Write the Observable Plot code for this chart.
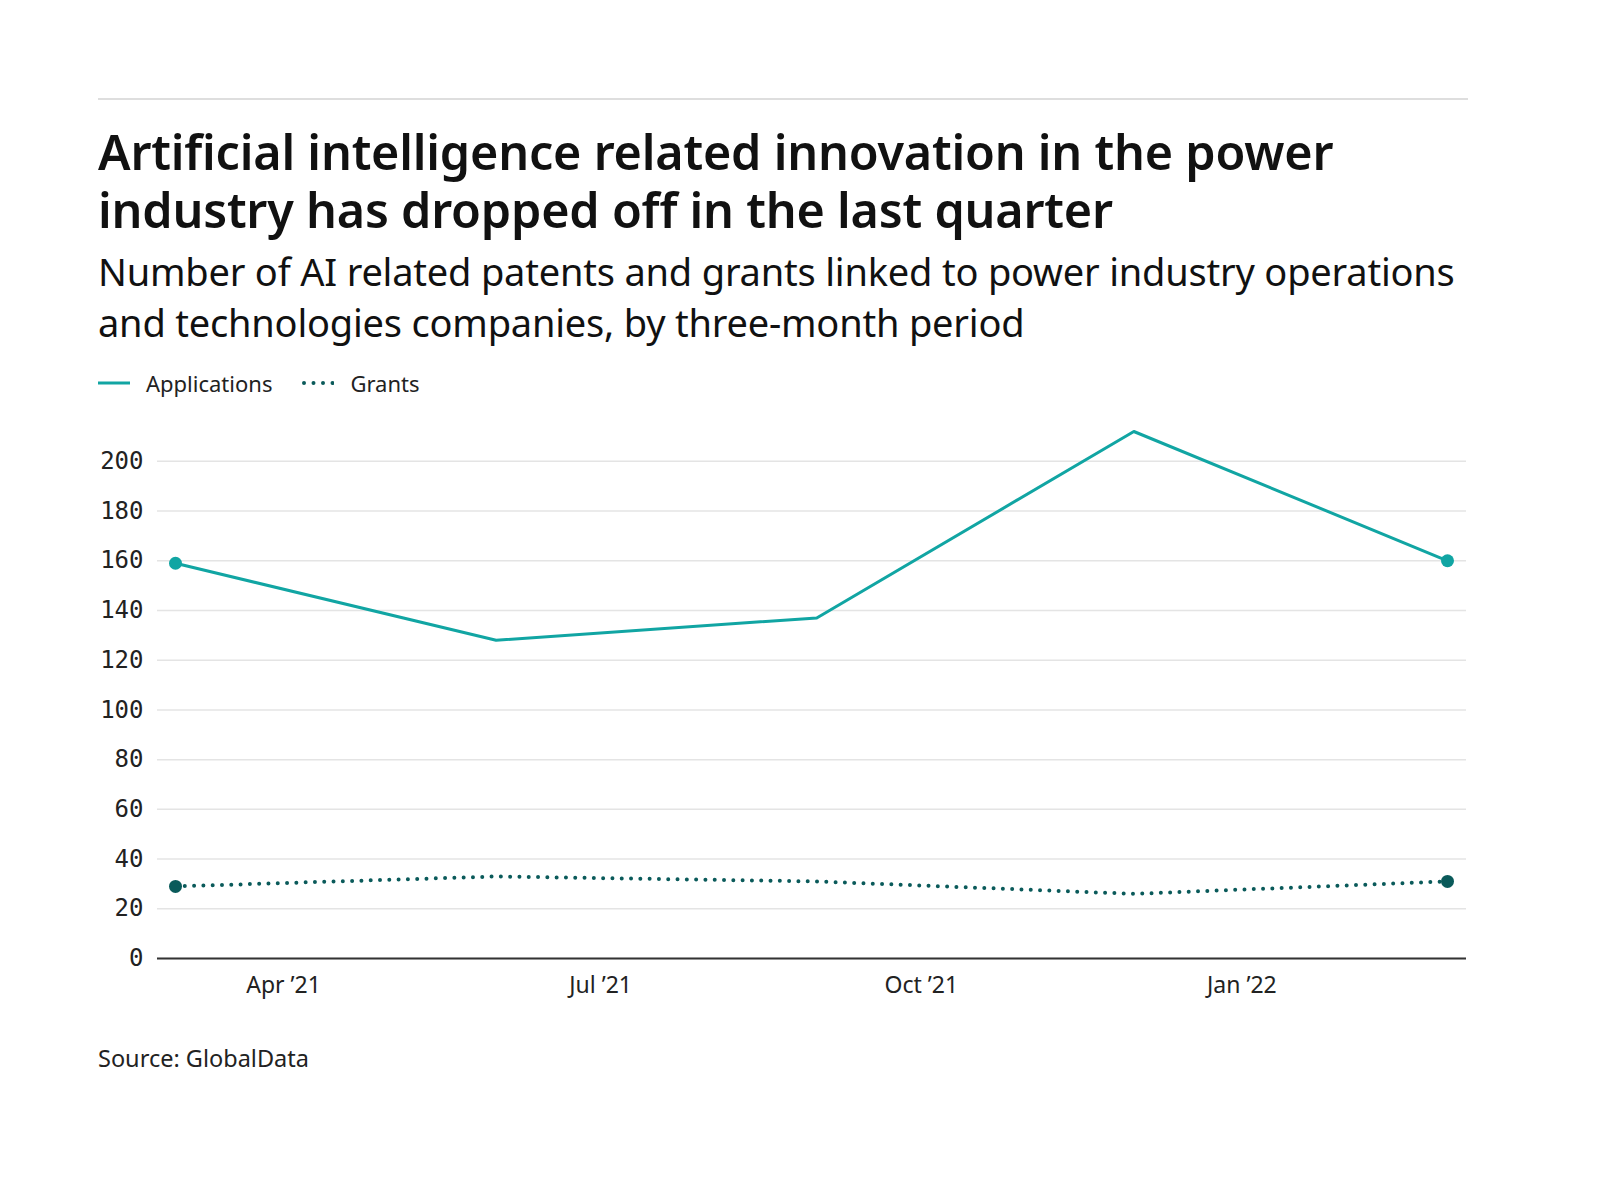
<!DOCTYPE html>
<html>
<head>
<meta charset="utf-8">
<script src="https://cdn.jsdelivr.net/npm/d3@7"></script>
<script src="https://cdn.jsdelivr.net/npm/@observablehq/plot@0.6"></script>
<style>
  html, body { margin: 0; padding: 0; background: #fff; }
  body { width: 1600px; height: 1200px; position: relative; font-family: "Noto Sans", sans-serif; color: #111; }
  #wrap { position: absolute; left: 98px; top: 98px; width: 1370px; }
  .rule { height: 0; border-top: 2px solid #dedede; }
  h1 { margin: 22px 0 0 0; font-size: 48.5px; line-height: 58px; font-weight: 600; color: #111; letter-spacing: -0.2px; }
  h2 { margin: 8px 0 0 0; font-size: 38px; line-height: 51px; font-weight: 400; color: #111; letter-spacing: -0.2px; white-space: nowrap; }
  .legend { margin-top: 20px; display: flex; align-items: center; font-size: 22px; color: #222; height: 30px; }
  .legend .item { display: flex; align-items: center; margin-right: 30px; }
  .legend svg { margin-right: 16px; }
  #chart { margin-top: 12px; }
  .source { font-size: 23.5px; color: #222; margin-top: 32px; }
</style>
</head>
<body>
<div id="wrap">
  <div class="rule"></div>
  <h1 id="title"></h1>
  <h2 id="subtitle"></h2>
  <div class="legend" id="legend"></div>
  <div id="chart"></div>
  <div class="source" id="source"></div>
</div>
<script>
const titleText = "Artificial intelligence related innovation in the power industry has dropped off in the last quarter";
const subtitleLines = ["Number of AI related patents and grants linked to power industry operations", "and technologies companies, by three-month period"];
const sourceText = "Source: GlobalData";

const periods = ["2021-03-01", "2021-06-01", "2021-09-01", "2021-12-01", "2022-03-01"];
const applications = [159, 128, 137, 212, 160];
const grants = [29, 33, 31, 26, 31];
const seriesNames = ["Applications", "Grants"];
const seriesColors = ["#11a5a3", "#0a5a5a"];
const yTicks = [0, 20, 40, 60, 80, 100, 120, 140, 160, 180, 200];
const xTicks = ["2021-04-01", "2021-07-01", "2021-10-01", "2022-01-01"];
const xTickLabels = ["Apr \u201921", "Jul \u201921", "Oct \u201921", "Jan \u201922"];

document.getElementById("title").textContent = titleText;
const sub = document.getElementById("subtitle");
subtitleLines.forEach((l, i) => {
  if (i) sub.appendChild(document.createElement("br"));
  sub.appendChild(document.createTextNode(l));
});
document.getElementById("source").textContent = sourceText;

// legend
const legend = document.getElementById("legend");
seriesNames.forEach((name, i) => {
  const item = document.createElement("div");
  item.className = "item";
  const dash = i === 0 ? "" : 'stroke-dasharray="0,9.5" stroke-linecap="round"';
  const w = i === 0 ? 3 : 4;
  item.innerHTML = `<svg width="32" height="10"><line x1="${i===0?0:2}" y1="5" x2="${i===0?32:31}" y2="5" stroke="${seriesColors[i]}" stroke-width="${w}" ${dash}/></svg><span>${name}</span>`;
  legend.appendChild(item);
});

const parse = d3.utcParse("%Y-%m-%d");
const appData = periods.map((p, i) => ({date: parse(p), value: applications[i], series: seriesNames[0]}));
const grantData = periods.map((p, i) => ({date: parse(p), value: grants[i], series: seriesNames[1]}));
const endDots = [appData[0], appData[appData.length - 1], grantData[0], grantData[grantData.length - 1]];
const tickDates = xTicks.map(parse);

const chart = Plot.plot({
  width: 1370,
  height: 600,
  marginLeft: 59,
  marginRight: 2,
  marginTop: 21,
  marginBottom: 52,
  style: { fontFamily: "Noto Sans, sans-serif", color: "#222", background: "#fff" },
  x: { type: "utc", insetLeft: 18, insetRight: 19 },
  y: { domain: [0, 212] },
  color: { domain: seriesNames, range: seriesColors },
  marks: [
    Plot.gridY(yTicks, { stroke: "#e4e4e4", strokeOpacity: 1, strokeWidth: 1.5 }),
    Plot.ruleY([0], { stroke: "#333", strokeWidth: 2 }),
    Plot.axisY(yTicks, { tickSize: 0, tickPadding: 14, fontSize: 24, fontFamily: "DejaVu Sans Mono, monospace", fill: "#222", label: null }),
    Plot.axisX(tickDates, { tickSize: 0, tickPadding: 18, fontSize: 23, fill: "#222", label: null,
      tickFormat: d => xTickLabels[tickDates.findIndex(t => +t === +d)] }),
    Plot.lineY(appData, { x: "date", y: "value", stroke: "series", strokeWidth: 3 }),
    Plot.lineY(grantData, { x: "date", y: "value", stroke: "series", strokeWidth: 4, strokeDasharray: "0,9.3", strokeLinecap: "round" }),
    Plot.dot(endDots, { x: "date", y: "value", fill: "series", r: 6.5 })
  ]
});
document.getElementById("chart").appendChild(chart);
</script>
</body>
</html>
